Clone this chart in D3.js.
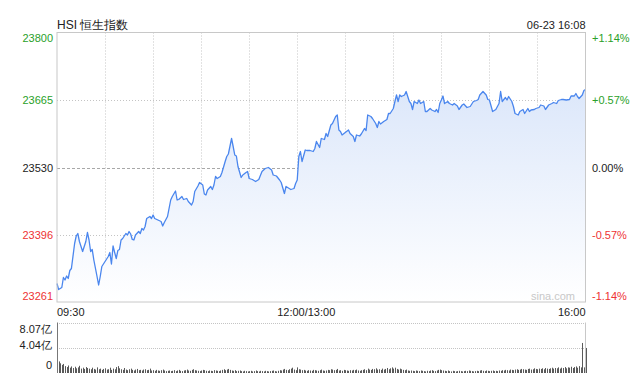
<!DOCTYPE html>
<html>
<head>
<meta charset="utf-8">
<script src="https://cdn.jsdelivr.net/npm/d3@7"></script>
<style>
  html, body { margin: 0; padding: 0; background: #fff; }
  svg { display: block; font-family: "Liberation Sans", Arial, sans-serif; }
</style>
</head>
<body>
<svg id="chart" width="644" height="378"></svg>
<script>
// trading minutes since 09:30 (lunch break removed), 330 = 16:00 close
const minutes = [0,1,3,4,5,6,7,8,9,11,12,13,14,16,18,19,20,21,22,23,25,26,27,28,29,30,32,33,34,35,36,37,38,39,40,41,43,44,45,46,47,48,49,51,52,53,54,55,56,58,59,60,61,63,65,66,67,69,71,72,74,75,76,78,79,81,82,84,85,86,88,89,91,92,93,94,96,97,98,99,100,102,103,105,106,107,109,110,111,112,113,115,116,118,119,120,122,124,126,128,130,132,134,135,137,139,140,142,143,145,146,148,149,150,151,152,153,155,156,158,160,161,162,164,165,167,168,169,171,172,174,175,176,177,178,180,182,183,185,186,187,189,190,192,193,194,196,197,199,200,201,202,204,206,207,208,210,211,212,213,214,215,217,218,220,221,222,223,225,226,227,229,230,231,233,234,236,237,238,239,240,241,242,244,245,247,248,250,251,253,254,256,258,260,262,263,264,266,268,269,270,272,273,274,276,277,278,280,281,282,284,285,286,288,289,291,292,294,295,296,298,299,301,302,304,305,307,309,310,312,313,315,316,318,320,321,323,324,325,326,328,329,330]
const prices  = [23298,23286,23290,23310,23305,23313,23308,23324,23328,23378,23393,23398,23382,23362,23382,23400,23385,23362,23366,23345,23312,23295,23312,23332,23337,23342,23352,23360,23337,23373,23360,23348,23364,23366,23385,23388,23398,23395,23402,23397,23386,23385,23395,23402,23398,23408,23405,23412,23428,23432,23428,23435,23428,23425,23422,23413,23420,23432,23465,23472,23483,23465,23466,23472,23466,23468,23462,23455,23462,23482,23493,23500,23495,23477,23475,23485,23492,23486,23495,23512,23508,23512,23520,23542,23552,23557,23588,23572,23555,23553,23532,23510,23515,23520,23522,23508,23506,23502,23506,23522,23528,23530,23525,23515,23513,23505,23500,23478,23492,23488,23486,23488,23498,23505,23552,23562,23542,23565,23564,23564,23562,23568,23582,23570,23588,23586,23598,23592,23615,23618,23632,23635,23605,23602,23595,23600,23605,23598,23592,23582,23595,23593,23597,23608,23604,23635,23632,23628,23618,23610,23622,23617,23622,23626,23638,23638,23648,23662,23675,23662,23675,23672,23675,23682,23662,23658,23646,23662,23658,23665,23658,23662,23642,23642,23648,23645,23642,23646,23640,23658,23665,23673,23658,23662,23658,23655,23658,23653,23646,23655,23657,23650,23652,23662,23664,23666,23675,23682,23675,23666,23665,23642,23644,23646,23658,23682,23662,23670,23665,23672,23662,23652,23638,23635,23642,23646,23638,23648,23642,23645,23646,23648,23650,23655,23653,23646,23655,23658,23660,23658,23664,23666,23666,23665,23666,23673,23673,23678,23672,23668,23675,23684,23686]

// volume per minute, in 亿
const volumes = [
  2.40,1.85,1.55,1.30,1.45,1.10,0.95,1.20,0.85,1.05,
  0.80,1.00,0.75,0.90,1.15,0.70,0.85,0.65,0.95,0.80,
  0.70,0.60,0.85,0.65,0.55,0.90,0.60,0.70,0.50,0.65,
  0.75,0.55,0.60,0.85,0.50,0.70,0.60,0.95,1.10,0.75,
  0.60,0.50,0.80,0.55,0.45,0.60,0.70,0.50,0.40,0.55,
  0.65,0.45,0.50,0.40,0.55,0.60,0.45,0.50,0.70,0.40,
  0.45,0.35,0.50,0.40,0.35,0.45,0.55,0.40,0.30,0.35,
  0.40,0.30,0.35,0.45,0.30,0.40,0.50,0.35,0.30,0.40,
  0.45,0.55,0.40,0.35,0.50,0.60,0.45,0.40,0.35,0.30,
  0.40,0.50,0.45,0.35,0.30,0.40,0.35,0.30,0.45,0.40,
  0.35,0.30,0.40,0.50,0.60,0.45,0.55,0.65,0.50,0.40,
  0.35,0.45,0.30,0.35,0.40,0.30,0.25,0.35,0.30,0.25,
  0.30,0.35,0.25,0.30,0.40,0.30,0.25,0.35,0.30,0.25,
  0.35,0.30,0.25,0.30,0.35,0.40,0.30,0.25,0.35,0.45,
  0.40,0.55,0.65,0.50,0.45,0.60,0.70,0.85,0.55,0.45,
  0.90,
  0.60,0.55,0.45,0.50,0.40,0.35,0.45,0.40,0.35,0.50,
  0.45,0.40,0.35,0.45,0.55,0.40,0.35,0.40,0.50,0.45,
  0.60,0.55,0.45,0.50,0.65,0.40,0.45,0.35,0.50,0.45,
  0.40,0.35,0.45,0.40,0.50,0.45,0.55,0.40,0.35,0.45,
  0.50,0.60,0.45,0.70,0.55,0.50,0.65,0.60,0.75,0.55,
  0.60,0.50,0.70,0.55,0.65,0.80,0.60,0.75,0.90,0.70,
  0.85,0.65,0.55,0.70,0.60,0.50,0.45,0.55,0.40,0.35,
  0.40,0.35,0.30,0.40,0.35,0.30,0.40,0.35,0.30,0.25,
  0.35,0.30,0.40,0.45,0.35,0.30,0.40,0.50,0.55,0.45,
  0.40,0.35,0.30,0.40,0.30,0.25,0.35,0.30,0.25,0.30,
  0.35,0.30,0.25,0.30,0.35,0.30,0.40,0.35,0.30,0.25,
  0.30,0.35,0.30,0.40,0.45,0.35,0.30,0.40,0.35,0.30,
  0.35,0.40,0.30,0.35,0.30,0.40,0.35,0.45,0.40,0.50,
  0.45,0.40,0.55,0.50,0.45,0.55,0.60,0.50,0.55,0.65,
  0.60,0.55,0.50,0.65,0.70,0.55,0.60,0.75,0.65,0.60,
  0.70,0.65,0.75,0.60,0.80,0.70,0.65,0.75,0.85,0.70,
  0.80,0.75,0.90,0.70,0.85,0.80,0.95,0.75,0.90,0.85,
  1.00,0.80,0.95,1.05,0.85,1.10,0.90,
  4.80,0.90,4.00
]

const priceTicks   = [23261, 23396, 23530, 23665, 23800]
const pctLabels    = ["-1.14%", "-0.57%", "0.00%", "+0.57%", "+1.14%"]
const prevClose    = 23530
const timeTicks    = [0, 30, 60, 90, 120, 150, 180, 210, 240, 270, 300, 330]
const timeLabels   = [{ m: 0, text: "09:30" }, { m: 150, text: "12:00/13:00" }, { m: 330, text: "16:00" }]
const volTicks     = [0, 4.04, 8.07]
const volLabels    = ["0", "4.04亿", "8.07亿"]

const title = "HSI 恒生指数"
const stamp = "06-23 16:08"

const GREEN = "#2a9f2a", RED = "#ee3333", GRID = "#c4c4c4", LINE = "#4a86ee"

const svg = d3.select("#chart")
const L = 57, R = 585.5
const pTop = 32.5, pBot = 302
const vTop = 322.5, vBot = 373

const x  = d3.scaleLinear().domain([0, 330]).range([L, R])
const y  = d3.scaleLinear().domain([23261, 23800]).range([pBot, pTop])
const yv = d3.scaleLinear().domain([0, 8.07]).range([vBot, vTop])

const data = minutes.map((m, i) => ({ m, p: prices[i] }))

// gradient under the line
const defs = svg.append("defs")
const grad = defs.append("linearGradient").attr("id", "areaFill")
  .attr("gradientUnits", "userSpaceOnUse")
  .attr("x1", 0).attr("y1", pTop).attr("x2", 0).attr("y2", pBot)
grad.append("stop").attr("offset", "0%").attr("stop-color", "#d3e1f9")
grad.append("stop").attr("offset", "100%").attr("stop-color", "#ffffff")

// ── grid ─────────────────────────────────────
const grid = svg.append("g")
grid.selectAll("line.v").data(timeTicks.slice(1, -1)).enter().append("line")
  .attr("x1", d => Math.round(x(d)) + 0.5).attr("x2", d => Math.round(x(d)) + 0.5)
  .attr("y1", pTop).attr("y2", pBot)
  .attr("stroke", GRID).attr("stroke-dasharray", "1,2")
grid.selectAll("line.h").data(priceTicks.slice(1, -1)).enter().append("line")
  .attr("x1", L).attr("x2", R)
  .attr("y1", d => Math.round(y(d)) + 0.5).attr("y2", d => Math.round(y(d)) + 0.5)
  .attr("stroke", d => d === prevClose ? "#a8a8a8" : GRID)
  .attr("stroke-dasharray", d => d === prevClose ? "3,2" : "1,2")

// ── area + line ──────────────────────────────
svg.append("path").datum(data)
  .attr("fill", "url(#areaFill)")
  .attr("d", d3.area().x(d => x(d.m)).y0(pBot).y1(d => y(d.p)))
svg.append("path").datum(data)
  .attr("fill", "none").attr("stroke", LINE).attr("stroke-width", 1.3)
  .attr("stroke-linejoin", "round")
  .attr("d", d3.line().x(d => x(d.m)).y(d => y(d.p)))

// frame
svg.append("rect").attr("x", L).attr("y", pTop).attr("width", R - L).attr("height", pBot - pTop)
  .attr("fill", "none").attr("stroke", "#c8c8c8")

// watermark
svg.append("text").attr("x", 575).attr("y", 300).attr("text-anchor", "end")
  .attr("font-size", 11).attr("fill", "#c8c8c8").text("sina.com")

// ── price labels ─────────────────────────────
const labColor = d => d > prevClose ? GREEN : d < prevClose ? RED : "#222"
const labShift = (d, i) => i === 0 ? -2 : i === priceTicks.length - 1 ? 9 : 4
svg.append("g").selectAll("text").data(priceTicks).enter().append("text")
  .attr("x", 53).attr("y", (d, i) => y(d) + labShift(d, i))
  .attr("text-anchor", "end").attr("font-size", 11).attr("fill", labColor)
  .text(d => d)
svg.append("g").selectAll("text").data(priceTicks).enter().append("text")
  .attr("x", 592).attr("y", (d, i) => y(d) + labShift(d, i))
  .attr("font-size", 11).attr("fill", labColor)
  .text((d, i) => pctLabels[i])

// title and time stamp
svg.append("text").attr("x", L).attr("y", 29).attr("font-size", 12).attr("fill", "#222").text(title)
svg.append("text").attr("x", R).attr("y", 29).attr("text-anchor", "end")
  .attr("font-size", 11).attr("fill", "#222").text(stamp)

// time axis labels
svg.append("g").selectAll("text").data(timeLabels).enter().append("text")
  .attr("x", d => d.m === 0 || d.m === 330 ? x(d.m) : x(d.m) + 9)
  .attr("y", 316)
  .attr("text-anchor", d => d.m === 0 ? "start" : d.m === 330 ? "end" : "middle")
  .attr("font-size", 11).attr("fill", "#222")
  .text(d => d.text)

// ── volume panel ─────────────────────────────
svg.append("g").selectAll("line").data(volTicks.slice(1)).enter().append("line")
  .attr("x1", L).attr("x2", R)
  .attr("y1", d => Math.round(yv(d)) + 0.5).attr("y2", d => Math.round(yv(d)) + 0.5)
  .attr("stroke", GRID).attr("stroke-dasharray", "1,1")
svg.append("line").attr("x1", R).attr("x2", R).attr("y1", vTop).attr("y2", vBot)
  .attr("stroke", "#c8c8c8")
svg.append("g").selectAll("rect").data(volumes).enter().append("rect")
  .attr("x", (d, i) => Math.round(x(i)))
  .attr("y", d => yv(d))
  .attr("width", 1)
  .attr("height", d => vBot - yv(d))
  .attr("fill", "#5a5a5a")
svg.append("line").attr("x1", L + 0.5).attr("x2", L + 0.5).attr("y1", vTop).attr("y2", vBot)
  .attr("stroke", "#777")
const vShift = [-4, 1, 10]
svg.append("g").selectAll("text").data(volTicks).enter().append("text")
  .attr("x", 52).attr("y", (d, i) => yv(d) + vShift[i])
  .attr("text-anchor", "end").attr("font-size", 11).attr("fill", "#222")
  .text((d, i) => volLabels[i])
</script>
</body>
</html>
